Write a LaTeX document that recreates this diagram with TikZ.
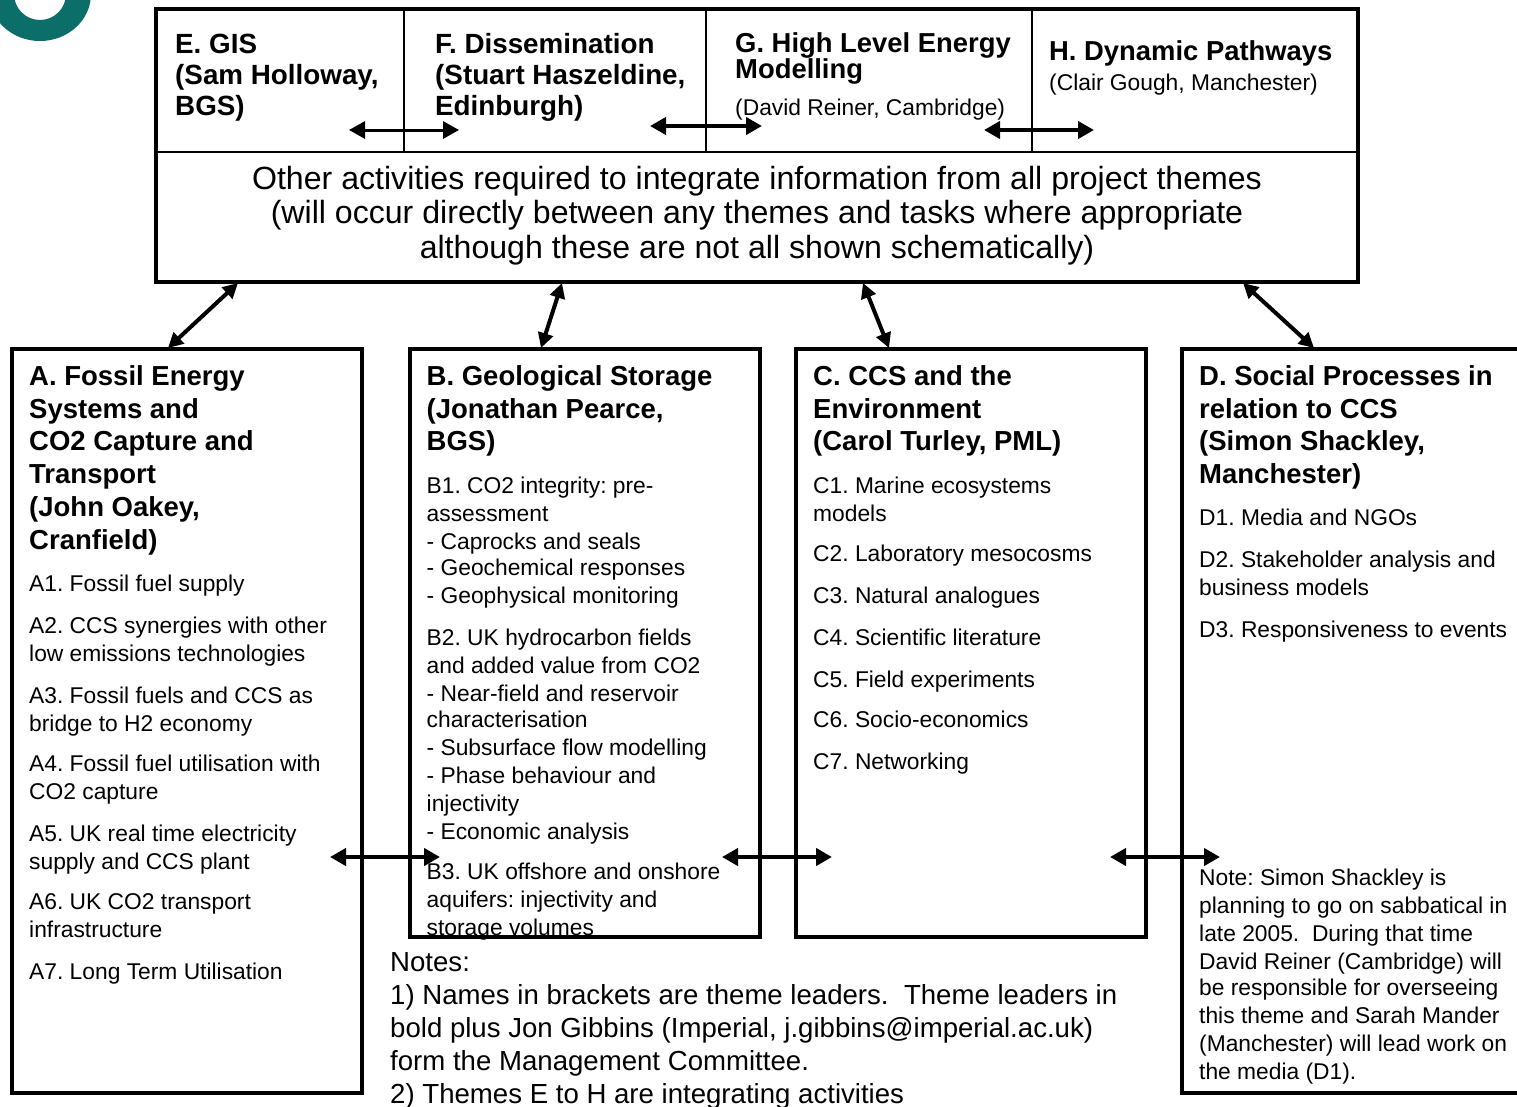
\documentclass[tikz,border=0pt]{standalone}
\usepackage{fontspec}
\setmainfont{Liberation Sans}
\usetikzlibrary{arrows.meta}
\definecolor{logoteal}{HTML}{0B6E68}
\frenchspacing
\tikzset{
  txt/.style={anchor=north west,inner sep=0pt,align=left,text=black},
  body/.style={txt,yshift=19.6pt,font=\fontsize{22.8}{28}\selectfont},
  head/.style={txt,yshift=22.96pt,font=\fontsize{27.5}{32.8}\selectfont\bfseries},
  topkhead/.style={txt,yshift=21.7pt,font=\fontsize{27.8}{31}\selectfont\bfseries},
  notes/.style={txt,yshift=23.1pt,font=\fontsize{27.6}{33}\selectfont},
  centre/.style={anchor=north,inner sep=0pt,align=center,yshift=24.15pt,font=\fontsize{32.1}{34.5}\selectfont},
  theme/.style={draw=black,line width=4pt,fill=white,anchor=north west,inner sep=0pt,outer sep=0pt},
  thin/.style={draw=black,line width=2pt},
  link/.style={draw=black,line width=4pt,{Triangle[length=16pt,width=17pt]}-{Triangle[length=16pt,width=17pt]}},
  diag/.style={draw=black,line width=4pt,{Triangle[length=15pt,width=15pt]}-{Triangle[length=15pt,width=15pt]}}
}
\begin{document}
\begin{tikzpicture}[x=1pt,y=-1pt]
\useasboundingbox (0,0) rectangle (1517,1106);
\clip (0,0) rectangle (1517,1106);
\fill[white] (0,0) rectangle (1517,1106);
% logo
\fill[logoteal,even odd rule] (40,-6) ellipse [x radius=51,y radius=47] (40,-6) ellipse [x radius=26,y radius=26];
% top box
\node[theme,minimum width=1202pt,minimum height=273pt] (top) at (156,9) {};
\coordinate (d0l) at (156,152); \coordinate (d0r) at (1358,152);
\coordinate (v1t) at (404,9); \coordinate (v1b) at (404,152);
\coordinate (v2t) at (706,9); \coordinate (v2b) at (706,152);
\coordinate (v3t) at (1032,9); \coordinate (v3b) at (1032,152);
\draw[thin] (d0l) -- (d0r);
\draw[thin] (v1t) -- (v1b);
\draw[thin] (v2t) -- (v2b);
\draw[thin] (v3t) -- (v3b);
% theme boxes
\node[theme,minimum width=350pt,minimum height=744pt] (boxA) at (12,349) {};
\node[theme,minimum width=350pt,minimum height=588pt] (boxB) at (410,349) {};
\node[theme,minimum width=350pt,minimum height=588pt] (boxC) at (796,349) {};
\node[theme,minimum width=350pt,minimum height=744pt] (boxD) at (1182,349) {};
% top texts
\node[topkhead] (tE) at (175,53) {\strut E. GIS\\(Sam Holloway,\\BGS)};
\node[topkhead] (tF) at (435,53) {\strut F. Dissemination\\(Stuart Haszeldine,\\Edinburgh)};
\node[txt,yshift=18.2pt,font=\fontsize{27.4}{26}\selectfont\bfseries] (tG) at (735,51) {\strut G. High Level Energy\\[-3pt]Modelling};
\node[body] (tGb) at (735,115) {\strut (David Reiner, Cambridge)};
\node[topkhead,font=\fontsize{27.4}{31}\selectfont\bfseries] (tH) at (1049,60) {\strut H. Dynamic Pathways};
\node[body] (tHb) at (1049,90) {\strut (Clair Gough, Manchester)};
\node[centre] (tOther) at (757,189) {\strut Other activities required to integrate information from all project themes\\(will occur directly between any themes and tasks where appropriate\\although these are not all shown schematically)};
% A
\node[head] (hA) at (29,385) {\strut A. Fossil Energy\\Systems and\\CO2 Capture and\\Transport\\(John Oakey,\\Cranfield)};
\node[body] (a1) at (29,591) {\strut A1. Fossil fuel supply};
\node[body] (a2) at (29,633) {\strut A2. CCS synergies with other\\low emissions technologies};
\node[body] (a3) at (29,703) {\strut A3. Fossil fuels and CCS as\\bridge to H2 economy};
\node[body] (a4) at (29,771) {\strut A4. Fossil fuel utilisation with\\CO2 capture};
\node[body] (a5) at (29,841) {\strut A5. UK real time electricity\\supply and CCS plant};
\node[body] (a6) at (29,909) {\strut A6. UK CO2 transport\\infrastructure};
\node[body] (a7) at (29,979) {\strut A7. Long Term Utilisation};
% B
\node[head] (hB) at (426.5,385) {\strut B. Geological Storage\\(Jonathan Pearce,\\BGS)};
\node[body] (b1) at (426.5,493) {\strut B1. CO2 integrity: pre-\\assessment\\- Caprocks and seals\\[-2pt]- Geochemical responses\\- Geophysical monitoring};
\node[body] (b2) at (426.5,645) {\strut B2. UK hydrocarbon fields\\and added value from CO2\\- Near-field and reservoir\\[-2pt]characterisation\\- Subsurface flow modelling\\- Phase behaviour and\\injectivity\\- Economic analysis};
\node[body] (b3) at (426.5,879) {\strut B3. UK offshore and onshore\\aquifers: injectivity and\\storage volumes};
% C
\node[head] (hC) at (813,385) {\strut C. CCS and the\\Environment\\(Carol Turley, PML)};
\node[body] (c1) at (813,493) {\strut C1. Marine ecosystems\\models};
\node[body] (c2) at (813,561) {\strut C2. Laboratory mesocosms};
\node[body] (c3) at (813,603) {\strut C3. Natural analogues};
\node[body] (c4) at (813,645) {\strut C4. Scientific literature};
\node[body] (c5) at (813,687) {\strut C5. Field experiments};
\node[body] (c6) at (813,727) {\strut C6. Socio-economics};
\node[body] (c7) at (813,769) {\strut C7. Networking};
% D
\node[head] (hD) at (1199,385) {\strut D. Social Processes in\\relation to CCS\\(Simon Shackley,\\Manchester)};
\node[body] (d1) at (1199,525) {\strut D1. Media and NGOs};
\node[body] (d2) at (1199,567) {\strut D2. Stakeholder analysis and\\business models};
\node[body] (d3) at (1199,637) {\strut D3. Responsiveness to events};
\node[body] (dn) at (1199,885) {\strut Note: Simon Shackley is\\planning to go on sabbatical in\\late 2005.\ \ During that time\\David Reiner (Cambridge) will\\[-2pt]be responsible for overseeing\\this theme and Sarah Mander\\(Manchester) will lead work on\\the media (D1).};
% notes
\node[notes] (nt) at (390,971) {\strut Notes:\\1) Names in brackets are theme leaders.\ \ Theme leaders in\\bold plus Jon Gibbins (Imperial, j.gibbins@imperial.ac.uk)\\form the Management Committee.\\2) Themes E to H are integrating activities};
% connectors
\coordinate (e1) at (349,130); \coordinate (e2) at (459,130);
\coordinate (f1) at (650,126); \coordinate (f2) at (762,126);
\coordinate (g1) at (984,130); \coordinate (g2) at (1094,130);
\coordinate (ab1) at (330,857); \coordinate (ab2) at (440,857);
\coordinate (bc1) at (722,857); \coordinate (bc2) at (832,857);
\coordinate (cd1) at (1110,857); \coordinate (cd2) at (1220,857);
\coordinate (ua) at (168,348); \coordinate (ta) at (238,283);
\coordinate (ub) at (541,348); \coordinate (tb) at (562,283);
\coordinate (uc) at (889,348); \coordinate (tc) at (863,283);
\coordinate (ud) at (1314,348); \coordinate (td) at (1243,283);
\draw[link,line width=3pt] (e1) -- (e2);
\draw[link] (f1) -- (f2);
\draw[link] (g1) -- (g2);
\draw[link] (ab1) -- (ab2);
\draw[link] (bc1) -- (bc2);
\draw[link] (cd1) -- (cd2);
\draw[diag] (ua) -- (ta);
\draw[diag] (ub) -- (tb);
\draw[diag] (uc) -- (tc);
\draw[diag] (ud) -- (td);
\end{tikzpicture}
\end{document}
